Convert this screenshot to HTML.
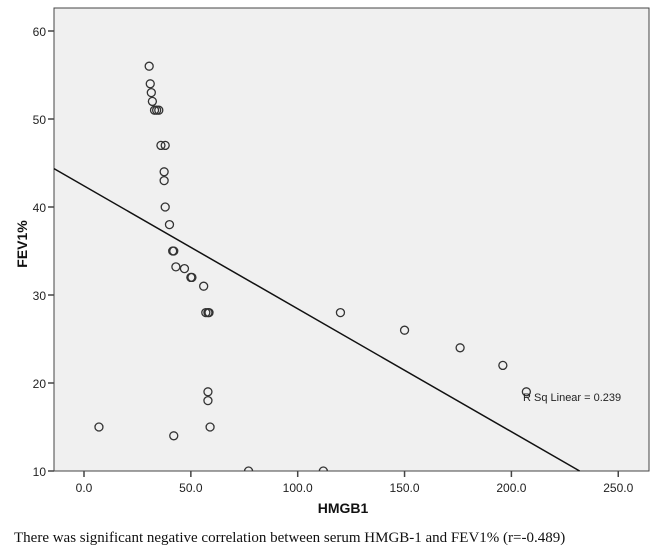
<!DOCTYPE html>
<html><head><meta charset="utf-8">
<style>
body{margin:0;background:#fff;width:664px;height:551px;overflow:hidden}
svg{display:block}
</style></head>
<body>
<svg id="chart" width="664" height="551" xmlns="http://www.w3.org/2000/svg"></svg>
<script>
const hmgb1 = [7,42,58,58,59,77,112,120,150,176,196,207,30.5,31,31.5,32,33,34,35,36,38,37.5,37.5,38,40,41.5,42,43,47,50,50.5,56,57,58,58.5];
const fev1  = [15,14,19,18,15,10,10,28,26,24,22,19,56,54,53,52,51,51,51,47,47,44,43,40,38,35,35,33.2,33,32,32,31,28,28,28];
const xTicks = [0,50,100,150,200,250];
const xTickLabels = ["0.0","50.0","100.0","150.0","200.0","250.0"];
const yTicks = [10,20,30,40,50,60];
const fitIntercept = 42.4;
const fitSlope = -0.1397;
const rSqLabel = "R Sq Linear = 0.239";

const NS="http://www.w3.org/2000/svg";
const svg=document.getElementById('chart');
const L=54,R=649,T=8,B=471;
const X0=84, XS=2.137;
const xs=v=>X0+v*XS;
const ys=v=>471-(v-10)*8.8;
const xMin=(L-X0)/XS, xMax=(R-X0)/XS;
function mk(tag,attrs,txt){const e=document.createElementNS(NS,tag);for(const k in attrs)e.setAttribute(k,attrs[k]);if(txt!=null)e.textContent=txt;svg.appendChild(e);return e;}

let bg=mk('rect',{x:L,y:T,width:R-L,height:B-T,fill:'#f0f0f0',stroke:'#444','stroke-width':1});



yTicks.forEach(t=>{
  let l=mk('line',{x1:L-6,x2:L,y1:ys(t),y2:ys(t),stroke:'#444','stroke-width':1.5});
  
  
  let tx=mk('text',{x:L-8,y:ys(t)+5,'text-anchor':'end','font-family':'Liberation Sans, sans-serif','font-size':12,fill:'#222'},t);
  
  
});
xTicks.forEach((t,i)=>{
  let l=mk('line',{x1:xs(t),x2:xs(t),y1:B,y2:B+6,stroke:'#444','stroke-width':1.5});
  
  
  let tx=mk('text',{x:xs(t),y:B+21,'text-anchor':'middle','font-family':'Liberation Sans, sans-serif','font-size':12,fill:'#222'},xTickLabels[i]);
  
  
});

let xa=xMin, ya=fitIntercept+fitSlope*xa;
let xb=(10-fitIntercept)/fitSlope; if(xb>xMax)xb=xMax;
let yb=fitIntercept+fitSlope*xb;
let fl=mk('line',{x1:xs(xa),y1:ys(ya),x2:xs(xb),y2:ys(yb),stroke:'#111','stroke-width':1.5});



let clip=mk('clipPath',{id:'pc'});
const cr=document.createElementNS(NS,'rect');cr.setAttribute('x',L);cr.setAttribute('y',T);cr.setAttribute('width',R-L);cr.setAttribute('height',B-T);clip.appendChild(cr);

hmgb1.forEach((v,i)=>{
  let c=mk('circle',{cx:xs(v),cy:ys(fev1[i]),r:4,fill:'none',stroke:'#333','stroke-width':1.3,'clip-path':'url(#pc)'});
  
  
});

let rs=mk('text',{x:523,y:401,'font-family':'Liberation Sans, sans-serif','font-size':11,fill:'#222'},rSqLabel);



let xt=mk('text',{x:343,y:513,'text-anchor':'middle','font-family':'Liberation Sans, sans-serif','font-size':14,'font-weight':'bold',fill:'#111'},'HMGB1');


let yt=mk('text',{x:0,y:0,transform:'translate(27,244) rotate(-90)','text-anchor':'middle','font-family':'Liberation Sans, sans-serif','font-size':14,'font-weight':'bold',fill:'#111'},'FEV1%');



let cap=mk('text',{x:14,y:542,'font-family':'Liberation Serif, serif','font-size':15,fill:'#111'},'There was significant negative correlation between serum HMGB-1 and FEV1% (r=-0.489)');


</script>
</body></html>
